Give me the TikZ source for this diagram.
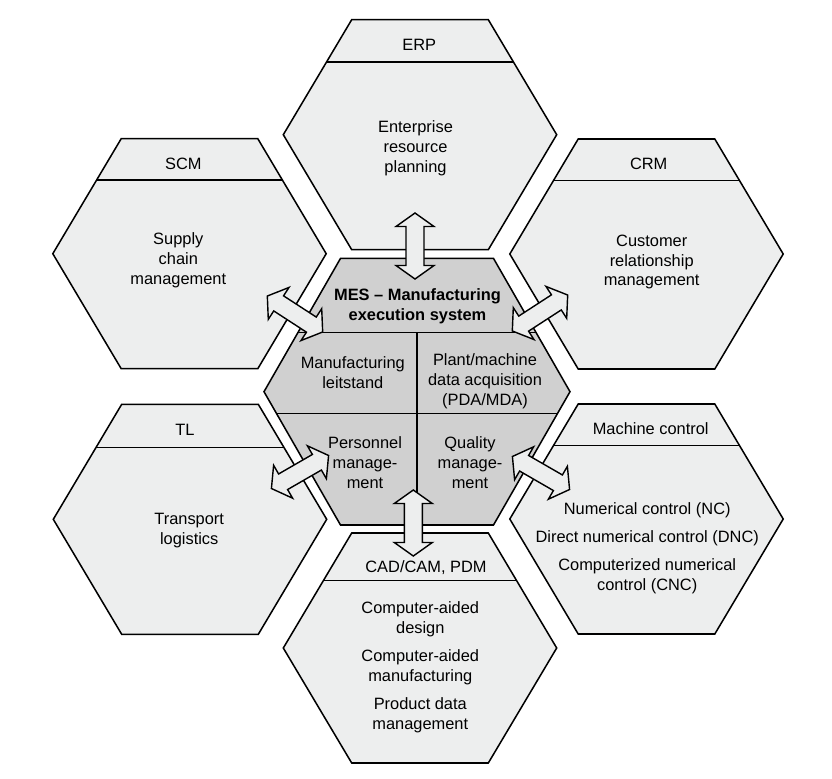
\documentclass[tikz,border=0pt]{standalone}
\usepackage{fontspec}
\setmainfont{Liberation Sans}
\usetikzlibrary{calc}

\definecolor{hexfill}{RGB}{237,238,238}
\definecolor{mesfill}{RGB}{208,208,208}

\begin{document}
\begin{tikzpicture}[x=0.03cm, y=-0.03cm,
	every node/.style={font=\fontsize{14}{17}\selectfont, align=center, inner sep=0pt},
	outerhex/.style={fill=hexfill, draw=black, line width=1.3pt},
	meshex/.style={fill=mesfill, draw=black, line width=1.3pt},
	divider/.style={draw=black, line width=1.1pt},
	mestitle/.style={font=\fontsize{14}{17}\selectfont\bfseries},
	linkarrow/.style={fill=hexfill, draw=black, line width=1.2pt, line join=miter}]

	\useasboundingbox (0,0) rectangle (832,779);

	%hexagon centres
	\coordinate (mes) at (417,391.7);
	\coordinate (erp) at (420,134.7);
	\coordinate (scm) at (189.5,253.7);
	\coordinate (crm) at (646.5,254);
	\coordinate (tl) at (190,519.3);
	\coordinate (mc) at (646.5,519);
	\coordinate (cad) at (420,648);

	%outer hexagons with their header line
	\foreach \h/\d in {erp/42.3,scm/41.3,crm/41.3,tl/43.4,mc/41.7,cad/47.7}{
		\pgfmathsetmacro{\w}{68.3+0.594*\d}
		\filldraw[outerhex, shift={(\h)}] (-136.7,0) -- (-68.3,-115) -- (68.3,-115) -- (136.7,0) -- (68.3,115) -- (-68.3,115) -- cycle;
		\draw[divider, shift={(\h)}] (-\w,\d-115) -- (\w,\d-115);
	}

	%central MES hexagon and its four fields
	\filldraw[meshex, shift={(mes)}] (-153,0) -- (-76.5,-133.3) -- (76.5,-133.3) -- (153,0) -- (76.5,133.3) -- (-76.5,133.3) -- cycle;
	\draw[divider, shift={(mes)}] (-119.1,-59) -- (119.1,-59);
	\draw[divider, shift={(mes)}] (-140.6,21.6) -- (140.6,21.6);
	\draw[divider, shift={(mes)}] (0,-59) -- (0,133.3);

	%MES labels
	\node[mestitle] (mes-title) at (417.5,306) {MES -- Manufacturing\\execution system};
	\node (mes-leit) at (352.8,373) {Manufacturing\\leitstand};
	\node (mes-pda) at (485,381.5) {Plant/machine\\data acquisition\\(PDA/MDA)};
	\node (mes-pers) at (365,463) {Personnel\\manage-\\ment};
	\node (mes-qual) at (470,462.5) {Quality\\manage-\\ment};

	%header labels
	\node (erp-head) at (419.2,45) {ERP};
	\node (scm-head) at (183.3,163.8) {SCM};
	\node (crm-head) at (648.7,163.8) {CRM};
	\node (tl-head) at (185,429.7) {TL};
	\node (mc-head) at (650.7,428.3) {Machine control};
	\node (cad-head) at (426,567.8) {CAD/CAM, PDM};

	%body labels
	\node (erp-body) at (415.5,148.5) {Enterprise\\resource\\planning};
	\node (scm-body) at (178.3,260) {Supply\\chain\\management};
	\node (crm-body) at (651.7,262) {Customer\\relationship\\management};
	\node (tl-body) at (189.2,531) {Transport\\logistics};
	\node (mc-body) at (647.2,548) {Numerical control (NC)\\[7pt]Direct numerical control (DNC)\\[7pt]Computerized numerical\\control (CNC)};
	\node (cad-body) at (420.3,667.5) {Computer-aided\\design\\[7pt]Computer-aided\\manufacturing\\[7pt]Product data\\management};

	%double arrows between MES and its neighbours
	\coordinate (link-erp) at (415,246);
	\coordinate (link-cad) at (413.3,523);
	\coordinate (link-scm) at (295,314);
	\coordinate (link-crm) at (540,313);
	\coordinate (link-tl) at (300,472);
	\coordinate (link-mc) at (541,473);
	\foreach \p/\a in {link-erp/90,link-cad/90,link-scm/-33,link-crm/33,link-tl/30,link-mc/-30}{
		\filldraw[linkarrow, shift={(\p)}, rotate=\a] (-33,0) -- (-19.5,-19) -- (-19.5,-9) -- (19.5,-9) -- (19.5,-19) -- (33,0) -- (19.5,19) -- (19.5,9) -- (-19.5,9) -- (-19.5,19) -- cycle;
	}

\end{tikzpicture}
\end{document}
